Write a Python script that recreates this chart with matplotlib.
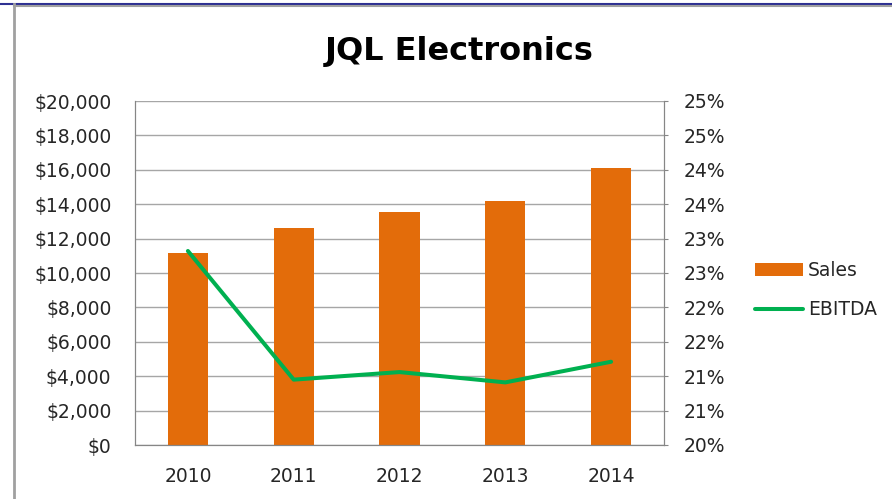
import matplotlib
matplotlib.use("Agg")
import matplotlib.pyplot as plt
import numpy as np
from matplotlib.lines import Line2D
from matplotlib.patches import Patch

plt.rcParams["font.family"] = ["DejaVu Sans"]

# chart data
years = ["2010", "2011", "2012", "2013", "2014"]
sales = [11190, 12620, 13550, 14200, 16080]
ebitda = [22.82, 20.95, 21.06, 20.91, 21.21]  # percent

sales_ticks = np.arange(0, 20001, 2000)
ebitda_ticks = np.arange(20, 25.01, 0.5)

bar_color = "#E36C0A"
line_color = "#00B050"
grid_color = "#A6A6A6"
axis_color = "#868686"
text_color = "#262626"

fig = plt.figure(figsize=(8.92, 4.99), dpi=100)
ax = fig.add_axes([135 / 892, 1 - 445 / 499, (664 - 135) / 892, (445 - 101) / 499])
ax2 = ax.twinx()

x = np.arange(len(years))
ax.bar(x, sales, width=0.38, color=bar_color, zorder=2)
ax2.plot(x, ebitda, color=line_color, linewidth=2.9, solid_capstyle="round", zorder=3)

ax.set_xlim(-0.5, len(years) - 0.5)
ax.set_ylim(0, 20000)
ax2.set_ylim(20, 25)

ax.set_xticks(x)
ax.set_xticklabels(years)
ax.set_yticks(sales_ticks)
ax.set_yticklabels([f"${v:,.0f}" for v in sales_ticks])
ax2.set_yticks(ebitda_ticks)
ax2.set_yticklabels([f"{int(v + 0.5)}%" for v in ebitda_ticks])

ax.set_axisbelow(True)
ax.grid(axis="y", color=grid_color, linewidth=1.0)

for a in (ax, ax2):
    a.spines["top"].set_visible(False)
    a.spines["left"].set_color(axis_color)
    a.spines["right"].set_color(axis_color)
    a.spines["bottom"].set_color(axis_color)

ax.tick_params(axis="x", length=0, pad=16, labelsize=13.5, labelcolor=text_color)
ax.tick_params(axis="y", length=0, pad=17, labelsize=13.5, labelcolor=text_color)
ax2.tick_params(axis="y", length=3, color=axis_color, pad=11, labelsize=13.5, labelcolor=text_color)

fig.text(459 / 892, 1 - 60 / 499, "JQL Electronics", ha="center", va="baseline",
         fontsize=23, fontweight="bold", color="black")

handles = [Patch(facecolor=bar_color, edgecolor="none"),
           Line2D([0], [0], color=line_color, linewidth=2.9, solid_capstyle="round")]
fig.legend(handles, ["Sales", "EBITDA"], loc="center left",
           bbox_to_anchor=(738 / 892, 1 - 290 / 499), frameon=False,
           fontsize=13.5, handlelength=2.55, handleheight=0.7, handletextpad=0.28,
           labelspacing=1.1, labelcolor=text_color)

# outer frame lines
fig.add_artist(Line2D([0, 1], [1 - 3.5 / 499] * 2, color="#2E3092", linewidth=1.5,
                      transform=fig.transFigure))
fig.add_artist(Line2D([14 / 892, 1], [1 - 5.5 / 499] * 2, color="#A0A0A0", linewidth=1.5,
                      transform=fig.transFigure))
fig.add_artist(Line2D([14 / 892] * 2, [0, 1 - 4 / 499], color="#A0A0A0", linewidth=2,
                      transform=fig.transFigure))

fig.savefig("out.png", dpi=100)
